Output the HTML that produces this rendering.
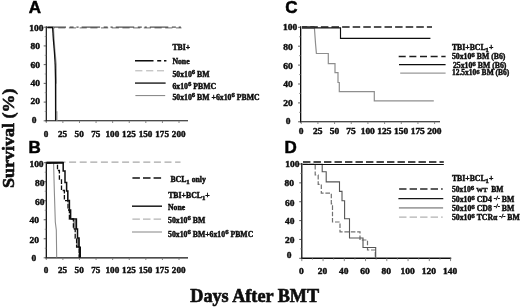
<!DOCTYPE html>
<html lang="en"><head><meta charset="utf-8"><title>Survival after BMT</title>
<style>
html,body{margin:0;padding:0;background:#fff;}
body{width:520px;height:307px;overflow:hidden;}
svg{display:block;}
.t{font-family:"Liberation Serif", "Times New Roman", Times, serif;font-weight:bold;fill:#0a0a0a;stroke:#0a0a0a;stroke-width:0.4px;paint-order:stroke;}
.p{font-family:"Liberation Sans", Arial, Helvetica, sans-serif;font-weight:bold;font-size:17px;fill:#000;stroke:#000;stroke-width:0.5px;}
.tk{font-size:8.6px;}
.lg{font-size:7.75px;}
.ax{stroke:#111;fill:none;}
.c{fill:none;stroke-linejoin:miter;stroke-linecap:butt;}
</style></head><body>
<svg width="520" height="307" viewBox="0 0 520 307">
<rect width="520" height="307" fill="#ffffff"/>
<defs><filter id="soft" x="0" y="0" width="520" height="307" filterUnits="userSpaceOnUse"><feGaussianBlur stdDeviation="0.38"/></filter></defs>
<g filter="url(#soft)">
<text class="t" style="stroke-width:0.6px" font-size="17.6" text-anchor="middle" textLength="99.5" lengthAdjust="spacingAndGlyphs" transform="translate(14.3 138.2) rotate(-90)">Survival (%)</text>
<text class="t" style="stroke-width:0.6px" font-size="18.2" x="190.3" y="301.6" textLength="128.8" lengthAdjust="spacingAndGlyphs">Days After BMT</text>
<text class="p" x="28.7" y="13.2">A</text>
<text class="p" x="28.6" y="152.7">B</text>
<text class="p" x="285.2" y="13.2">C</text>
<text class="p" x="284.4" y="152.9">D</text>
<line class="ax" x1="46.3" y1="26.2" x2="46.3" y2="121.39999999999999" stroke-width="1.15"/>
<line class="ax" x1="45.599999999999994" y1="120.8" x2="188" y2="120.8" stroke-width="1.1"/>
<line x1="46.30" y1="120.8" x2="46.30" y2="123.0" stroke="#777" stroke-width="0.9"/>
<line x1="62.89" y1="120.8" x2="62.89" y2="123.0" stroke="#777" stroke-width="0.9"/>
<line x1="79.47" y1="120.8" x2="79.47" y2="123.0" stroke="#777" stroke-width="0.9"/>
<line x1="96.06" y1="120.8" x2="96.06" y2="123.0" stroke="#777" stroke-width="0.9"/>
<line x1="112.65" y1="120.8" x2="112.65" y2="123.0" stroke="#777" stroke-width="0.9"/>
<line x1="129.24" y1="120.8" x2="129.24" y2="123.0" stroke="#777" stroke-width="0.9"/>
<line x1="145.82" y1="120.8" x2="145.82" y2="123.0" stroke="#777" stroke-width="0.9"/>
<line x1="162.41" y1="120.8" x2="162.41" y2="123.0" stroke="#777" stroke-width="0.9"/>
<line x1="179.00" y1="120.8" x2="179.00" y2="123.0" stroke="#777" stroke-width="0.9"/>
<line x1="43.699999999999996" y1="120.80" x2="46.3" y2="120.80" stroke="#333" stroke-width="0.8"/>
<line x1="43.699999999999996" y1="102.08" x2="46.3" y2="102.08" stroke="#333" stroke-width="0.8"/>
<line x1="43.699999999999996" y1="83.36" x2="46.3" y2="83.36" stroke="#333" stroke-width="0.8"/>
<line x1="43.699999999999996" y1="64.64" x2="46.3" y2="64.64" stroke="#333" stroke-width="0.8"/>
<line x1="43.699999999999996" y1="45.92" x2="46.3" y2="45.92" stroke="#333" stroke-width="0.8"/>
<line x1="43.699999999999996" y1="27.20" x2="46.3" y2="27.20" stroke="#333" stroke-width="0.8"/>
<line x1="44.699999999999996" y1="111.44" x2="46.3" y2="111.44" stroke="#777" stroke-width="0.7"/>
<line x1="44.699999999999996" y1="92.72" x2="46.3" y2="92.72" stroke="#777" stroke-width="0.7"/>
<line x1="44.699999999999996" y1="74.00" x2="46.3" y2="74.00" stroke="#777" stroke-width="0.7"/>
<line x1="44.699999999999996" y1="55.28" x2="46.3" y2="55.28" stroke="#777" stroke-width="0.7"/>
<line x1="44.699999999999996" y1="36.56" x2="46.3" y2="36.56" stroke="#777" stroke-width="0.7"/>
<text class="t tk" transform="translate(29.2 30.5) scale(1.1 1)" text-anchor="start">100</text>
<text class="t tk" transform="translate(30.5 49.2) scale(1.1 1)" text-anchor="start">80</text>
<text class="t tk" transform="translate(30.5 68.2) scale(1.1 1)" text-anchor="start">60</text>
<text class="t tk" transform="translate(30.5 86.2) scale(1.1 1)" text-anchor="start">40</text>
<text class="t tk" transform="translate(30.5 104.4) scale(1.1 1)" text-anchor="start">20</text>
<text class="t tk" transform="translate(31.8 123.2) scale(1.1 1)" text-anchor="start">0</text>
<text class="t tk" transform="translate(46.00 136.8) scale(1.06 1)" text-anchor="middle">0</text>
<text class="t tk" transform="translate(62.59 136.8) scale(1.06 1)" text-anchor="middle">25</text>
<text class="t tk" transform="translate(79.17 136.8) scale(1.06 1)" text-anchor="middle">50</text>
<text class="t tk" transform="translate(95.76 136.8) scale(1.06 1)" text-anchor="middle">75</text>
<text class="t tk" transform="translate(112.35 136.8) scale(1.06 1)" text-anchor="middle">100</text>
<text class="t tk" transform="translate(128.94 136.8) scale(1.06 1)" text-anchor="middle">125</text>
<text class="t tk" transform="translate(145.52 136.8) scale(1.06 1)" text-anchor="middle">150</text>
<text class="t tk" transform="translate(162.11 136.8) scale(1.06 1)" text-anchor="middle">175</text>
<text class="t tk" transform="translate(178.70 136.8) scale(1.06 1)" text-anchor="middle">200</text>
<path class="c" d="M47.5,27.9 H181.5" stroke="#8a8a8a" stroke-width="1.3" stroke-dasharray="7.2 3.5"/>
<path class="c" d="M47.5,27.1 H181.5" stroke="#2c2c2c" stroke-width="1.0" stroke-dasharray="18.5 3.6 4 2.8 2.2 3"/>
<path class="c" d="M47.5,27.5 H53.3 L54.6,48 L56.1,64 L56.3,83 L55.9,84 V112 H56.8 V120.8" stroke="#9c9c9c" stroke-width="1.4"/>
<path class="c" d="M47.3,27.4 H52.6 L53.4,40 L54.4,52 L55.2,65 L55.5,80 L55.6,120.8" stroke="#0c0c0c" stroke-width="1.25"/>
<text class="t lg" transform="translate(172.4 49.9) scale(1.0 1)" text-anchor="start">TBI+</text>
<text class="t lg" transform="translate(172.4 63.6) scale(1.0 1)" text-anchor="start">None</text>
<text class="t lg" transform="translate(172.4 77.0) scale(1.0 1)" text-anchor="start">50x10<tspan dy="-3.0" font-size="6.8">6</tspan><tspan dy="3.0"> </tspan>BM</text>
<text class="t lg" transform="translate(172.4 88.5) scale(1.0 1)" text-anchor="start">6x10<tspan dy="-3.0" font-size="6.8">6</tspan><tspan dy="3.0"> </tspan>PBMC</text>
<text class="t lg" transform="translate(172.4 100.4) scale(1.0 1)" text-anchor="start">50x10<tspan dy="-3.0" font-size="6.8">6</tspan><tspan dy="3.0"> </tspan>BM +6x10<tspan dy="-3.0" font-size="6.8">6</tspan><tspan dy="3.0"> </tspan>PBMC</text>
<path class="c" d="M135,60.8 H166.4" stroke="#0a0a0a" stroke-width="1.4" stroke-dasharray="18.5 3.7 4 2.8 2.4 3"/>
<path class="c" d="M135.2,70.8 H164" stroke="#b0b0b0" stroke-width="1.0" stroke-dasharray="7.2 3.7"/>
<path class="c" d="M135,83.1 H165.6" stroke="#0c0c0c" stroke-width="1.3"/>
<path class="c" d="M135.4,95.6 H165.2" stroke="#808080" stroke-width="1.0"/>
<line class="ax" x1="46.3" y1="161.7" x2="46.3" y2="258.40000000000003" stroke-width="1.3"/>
<line class="ax" x1="45.599999999999994" y1="257.8" x2="188" y2="257.8" stroke-width="1.3"/>
<line x1="46.30" y1="257.8" x2="46.30" y2="260.0" stroke="#777" stroke-width="0.9"/>
<line x1="62.89" y1="257.8" x2="62.89" y2="260.0" stroke="#777" stroke-width="0.9"/>
<line x1="79.47" y1="257.8" x2="79.47" y2="260.0" stroke="#777" stroke-width="0.9"/>
<line x1="96.06" y1="257.8" x2="96.06" y2="260.0" stroke="#777" stroke-width="0.9"/>
<line x1="112.65" y1="257.8" x2="112.65" y2="260.0" stroke="#777" stroke-width="0.9"/>
<line x1="129.24" y1="257.8" x2="129.24" y2="260.0" stroke="#777" stroke-width="0.9"/>
<line x1="145.82" y1="257.8" x2="145.82" y2="260.0" stroke="#777" stroke-width="0.9"/>
<line x1="162.41" y1="257.8" x2="162.41" y2="260.0" stroke="#777" stroke-width="0.9"/>
<line x1="179.00" y1="257.8" x2="179.00" y2="260.0" stroke="#777" stroke-width="0.9"/>
<line x1="43.699999999999996" y1="257.80" x2="46.3" y2="257.80" stroke="#333" stroke-width="0.8"/>
<line x1="43.699999999999996" y1="238.78" x2="46.3" y2="238.78" stroke="#333" stroke-width="0.8"/>
<line x1="43.699999999999996" y1="219.76" x2="46.3" y2="219.76" stroke="#333" stroke-width="0.8"/>
<line x1="43.699999999999996" y1="200.74" x2="46.3" y2="200.74" stroke="#333" stroke-width="0.8"/>
<line x1="43.699999999999996" y1="181.72" x2="46.3" y2="181.72" stroke="#333" stroke-width="0.8"/>
<line x1="43.699999999999996" y1="162.70" x2="46.3" y2="162.70" stroke="#333" stroke-width="0.8"/>
<line x1="44.699999999999996" y1="248.29" x2="46.3" y2="248.29" stroke="#777" stroke-width="0.7"/>
<line x1="44.699999999999996" y1="229.27" x2="46.3" y2="229.27" stroke="#777" stroke-width="0.7"/>
<line x1="44.699999999999996" y1="210.25" x2="46.3" y2="210.25" stroke="#777" stroke-width="0.7"/>
<line x1="44.699999999999996" y1="191.23" x2="46.3" y2="191.23" stroke="#777" stroke-width="0.7"/>
<line x1="44.699999999999996" y1="172.21" x2="46.3" y2="172.21" stroke="#777" stroke-width="0.7"/>
<text class="t tk" transform="translate(29.4 166.9) scale(1.1 1)" text-anchor="start">100</text>
<text class="t tk" transform="translate(34.9 185.5) scale(1.1 1)" text-anchor="start">80</text>
<text class="t tk" transform="translate(34.9 205.0) scale(1.1 1)" text-anchor="start">60</text>
<text class="t tk" transform="translate(29.6 223.25) scale(1.1 1)" text-anchor="start">40</text>
<text class="t tk" transform="translate(29.6 242.5) scale(1.1 1)" text-anchor="start">20</text>
<text class="t tk" transform="translate(31.4 261.25) scale(1.1 1)" text-anchor="start">0</text>
<text class="t tk" transform="translate(46.00 272.9) scale(1.06 1)" text-anchor="middle">0</text>
<text class="t tk" transform="translate(62.59 272.9) scale(1.06 1)" text-anchor="middle">25</text>
<text class="t tk" transform="translate(79.17 272.9) scale(1.06 1)" text-anchor="middle">50</text>
<text class="t tk" transform="translate(95.76 272.9) scale(1.06 1)" text-anchor="middle">75</text>
<text class="t tk" transform="translate(112.35 272.9) scale(1.06 1)" text-anchor="middle">100</text>
<text class="t tk" transform="translate(128.94 272.9) scale(1.06 1)" text-anchor="middle">125</text>
<text class="t tk" transform="translate(145.52 272.9) scale(1.06 1)" text-anchor="middle">150</text>
<text class="t tk" transform="translate(162.11 272.9) scale(1.06 1)" text-anchor="middle">175</text>
<text class="t tk" transform="translate(178.70 272.9) scale(1.06 1)" text-anchor="middle">200</text>
<path class="c" d="M63.5,162.2 H180.5" stroke="#a8a8a8" stroke-width="1.2" stroke-dasharray="7 3.6" stroke-dashoffset="-5.6"/>
<path class="c" d="M47,162.9 H53.6 L54.3,190 L55.3,222 L56.3,230 L56.7,257.5" stroke="#8c8c8c" stroke-width="1.1"/>
<path class="c" d="M74.9,220 V229 M78,238.4 V247" stroke="#707070" stroke-width="3.4" stroke-dasharray="0.8 0.2"/>
<path class="c" d="M47,162.8 H57.5 V170.5 H59.4 V180 H61.5 V190.5 H64.4 V200.6 H68 V210 H69.4 V219 H73.4 V229 H75.2 V238 H76.6 V247 H79.2 V257.5" stroke="#111" stroke-width="1.3" stroke-dasharray="4.6 1.6"/>
<path class="c" d="M47,162.8 H63.2 V171 H65 V182.4 H66.6 V191 H67.8 V200.6 H69.4 V210 H70.6 V219 H76.4 V229 H77.5 V238 H79 V247 H79.9 V257.5" stroke="#0c0c0c" stroke-width="1.5"/>
<path class="c" d="M79.9,247 V257.5" stroke="#0c0c0c" stroke-width="2.2"/>
<path class="c" d="M47,162.6 H63.5" stroke="#0c0c0c" stroke-width="2"/>
<path class="c" d="M132.4,178 H161.2" stroke="#111" stroke-width="1.3" stroke-dasharray="7.5 3.1"/>
<text class="t lg" transform="translate(170.4 181.8) scale(1.0 1)" text-anchor="start" font-size="8.3">BCL<tspan dy="2.1" font-size="6.8">1</tspan><tspan dy="-2.1" font-size="1">&#8203;</tspan> only</text>
<text class="t lg" transform="translate(168.2 198.0) scale(1.0 1)" text-anchor="start">TBI+BCL<tspan dy="2.1" font-size="6.8">1</tspan><tspan dy="-2.1" font-size="1">&#8203;</tspan>+</text>
<path class="c" d="M132,206.2 H162" stroke="#0c0c0c" stroke-width="1.4"/>
<text class="t lg" transform="translate(168.0 209.5) scale(1.0 1)" text-anchor="start">None</text>
<path class="c" d="M132.4,219.1 H161.2" stroke="#b4b4b4" stroke-width="1.3" stroke-dasharray="7.5 3.1"/>
<text class="t lg" transform="translate(168.0 223.3) scale(1.0 1)" text-anchor="start">50x10<tspan dy="-3.0" font-size="6.8">6</tspan><tspan dy="3.0"> </tspan>BM</text>
<path class="c" d="M132,232 H162" stroke="#a8a8a8" stroke-width="1.4"/>
<text class="t lg" transform="translate(168.0 237.0) scale(1.0 1)" text-anchor="start">50x10<tspan dy="-3.0" font-size="6.8">6</tspan><tspan dy="3.0"> </tspan>BM+6x10<tspan dy="-3.0" font-size="6.8">6</tspan><tspan dy="3.0"> </tspan>PBMC</text>
<line class="ax" x1="300.65" y1="26.3" x2="300.65" y2="122.39999999999999" stroke-width="1.3"/>
<line class="ax" x1="299.95" y1="121.8" x2="440" y2="121.8" stroke-width="1.1"/>
<line x1="301.25" y1="121.8" x2="301.25" y2="124.0" stroke="#777" stroke-width="0.9"/>
<line x1="317.92" y1="121.8" x2="317.92" y2="124.0" stroke="#777" stroke-width="0.9"/>
<line x1="334.59" y1="121.8" x2="334.59" y2="124.0" stroke="#777" stroke-width="0.9"/>
<line x1="351.26" y1="121.8" x2="351.26" y2="124.0" stroke="#777" stroke-width="0.9"/>
<line x1="367.93" y1="121.8" x2="367.93" y2="124.0" stroke="#777" stroke-width="0.9"/>
<line x1="384.60" y1="121.8" x2="384.60" y2="124.0" stroke="#777" stroke-width="0.9"/>
<line x1="401.27" y1="121.8" x2="401.27" y2="124.0" stroke="#777" stroke-width="0.9"/>
<line x1="417.94" y1="121.8" x2="417.94" y2="124.0" stroke="#777" stroke-width="0.9"/>
<line x1="434.61" y1="121.8" x2="434.61" y2="124.0" stroke="#777" stroke-width="0.9"/>
<line x1="298.04999999999995" y1="121.80" x2="300.65" y2="121.80" stroke="#333" stroke-width="0.8"/>
<line x1="298.04999999999995" y1="102.90" x2="300.65" y2="102.90" stroke="#333" stroke-width="0.8"/>
<line x1="298.04999999999995" y1="84.00" x2="300.65" y2="84.00" stroke="#333" stroke-width="0.8"/>
<line x1="298.04999999999995" y1="65.10" x2="300.65" y2="65.10" stroke="#333" stroke-width="0.8"/>
<line x1="298.04999999999995" y1="46.20" x2="300.65" y2="46.20" stroke="#333" stroke-width="0.8"/>
<line x1="298.04999999999995" y1="27.30" x2="300.65" y2="27.30" stroke="#333" stroke-width="0.8"/>
<line x1="299.04999999999995" y1="112.35" x2="300.65" y2="112.35" stroke="#777" stroke-width="0.7"/>
<line x1="299.04999999999995" y1="93.45" x2="300.65" y2="93.45" stroke="#777" stroke-width="0.7"/>
<line x1="299.04999999999995" y1="74.55" x2="300.65" y2="74.55" stroke="#777" stroke-width="0.7"/>
<line x1="299.04999999999995" y1="55.65" x2="300.65" y2="55.65" stroke="#777" stroke-width="0.7"/>
<line x1="299.04999999999995" y1="36.75" x2="300.65" y2="36.75" stroke="#777" stroke-width="0.7"/>
<text class="t tk" transform="translate(283.0 30.4) scale(1.1 1)" text-anchor="start">100</text>
<text class="t tk" transform="translate(283.3 49.5) scale(1.1 1)" text-anchor="start">80</text>
<text class="t tk" transform="translate(283.3 68.75) scale(1.1 1)" text-anchor="start">60</text>
<text class="t tk" transform="translate(283.3 87.0) scale(1.1 1)" text-anchor="start">40</text>
<text class="t tk" transform="translate(283.3 105.5) scale(1.1 1)" text-anchor="start">20</text>
<text class="t tk" transform="translate(285.7 123.75) scale(1.1 1)" text-anchor="start">0</text>
<text class="t tk" transform="translate(301.05 133.5) scale(1.1 1)" text-anchor="middle" font-size="8.8">0</text>
<text class="t tk" transform="translate(317.72 133.5) scale(1.1 1)" text-anchor="middle" font-size="8.8">25</text>
<text class="t tk" transform="translate(334.39 133.5) scale(1.1 1)" text-anchor="middle" font-size="8.8">50</text>
<text class="t tk" transform="translate(351.06 133.5) scale(1.1 1)" text-anchor="middle" font-size="8.8">75</text>
<text class="t tk" transform="translate(367.73 133.5) scale(1.1 1)" text-anchor="middle" font-size="8.8">100</text>
<text class="t tk" transform="translate(384.40 133.5) scale(1.1 1)" text-anchor="middle" font-size="8.8">125</text>
<text class="t tk" transform="translate(401.07 133.5) scale(1.1 1)" text-anchor="middle" font-size="8.8">150</text>
<text class="t tk" transform="translate(417.74 133.5) scale(1.1 1)" text-anchor="middle" font-size="8.8">175</text>
<text class="t tk" transform="translate(434.41 133.5) scale(1.1 1)" text-anchor="middle" font-size="8.8">200</text>
<path class="c" d="M302,27.8 H314.4 L315.6,44.5 L316.4,53.5 H328.3 V63.6 H335 V72.6 H338 V82.5 H339.3 V91.7 H374.3 V100.8 H433.8" stroke="#8e8e8e" stroke-width="1.2"/>
<path class="c" d="M302,27.8 H340.5 V38.3 H430.4" stroke="#111" stroke-width="1.15"/>
<path class="c" d="M302,26.9 H432" stroke="#1a1a1a" stroke-width="1.5" stroke-dasharray="7.5 3.1" stroke-dashoffset="-8.3"/>
<path class="c" d="M302,27.2 H314.5" stroke="#333" stroke-width="2"/>
<text class="t lg" transform="translate(451.9 49.8) scale(1.0 1)" text-anchor="start">TBI+BCL<tspan dy="2.1" font-size="6.8">1</tspan><tspan dy="-2.1" font-size="1">&#8203;</tspan>+</text>
<text class="t lg" transform="translate(451.9 58.75) scale(1.0 1)" text-anchor="start">50x10<tspan dy="-1.7" font-size="7.1">6</tspan><tspan dy="1.7"> </tspan>BM (B6)</text>
<text class="t lg" transform="translate(452.9 67.7) scale(1.0 1)" text-anchor="start">25x10<tspan dy="-1.7" font-size="7.1">6</tspan><tspan dy="1.7"> </tspan>BM (B6)</text>
<text class="t lg" transform="translate(451.9 75.35) scale(0.97 1)" text-anchor="start">12.5x10<tspan dy="-1.7" font-size="7.1">6</tspan><tspan dy="1.7"> </tspan>BM (B6)</text>
<path class="c" d="M398.7,56.5 H445.6" stroke="#1c1c1c" stroke-width="1.35" stroke-dasharray="7 3.65"/>
<path class="c" d="M399,64.6 H445.6" stroke="#111" stroke-width="1.3"/>
<path class="c" d="M400.2,73.1 H445.6" stroke="#999" stroke-width="1.2"/>
<line class="ax" x1="301.8" y1="163.0" x2="301.8" y2="258.90000000000003" stroke-width="1.3"/>
<line class="ax" x1="301.1" y1="258.3" x2="451.2" y2="258.3" stroke-width="1.4"/>
<line x1="301.80" y1="258.3" x2="301.80" y2="261.1" stroke="#777" stroke-width="0.9"/>
<line x1="323.05" y1="258.3" x2="323.05" y2="261.1" stroke="#777" stroke-width="0.9"/>
<line x1="344.30" y1="258.3" x2="344.30" y2="261.1" stroke="#777" stroke-width="0.9"/>
<line x1="365.55" y1="258.3" x2="365.55" y2="261.1" stroke="#777" stroke-width="0.9"/>
<line x1="386.80" y1="258.3" x2="386.80" y2="261.1" stroke="#777" stroke-width="0.9"/>
<line x1="408.05" y1="258.3" x2="408.05" y2="261.1" stroke="#777" stroke-width="0.9"/>
<line x1="429.30" y1="258.3" x2="429.30" y2="261.1" stroke="#777" stroke-width="0.9"/>
<line x1="450.55" y1="258.3" x2="450.55" y2="261.1" stroke="#777" stroke-width="0.9"/>
<line x1="312.43" y1="258.3" x2="312.43" y2="259.7" stroke="#888" stroke-width="0.8"/>
<line x1="333.68" y1="258.3" x2="333.68" y2="259.7" stroke="#888" stroke-width="0.8"/>
<line x1="354.93" y1="258.3" x2="354.93" y2="259.7" stroke="#888" stroke-width="0.8"/>
<line x1="376.18" y1="258.3" x2="376.18" y2="259.7" stroke="#888" stroke-width="0.8"/>
<line x1="397.43" y1="258.3" x2="397.43" y2="259.7" stroke="#888" stroke-width="0.8"/>
<line x1="418.68" y1="258.3" x2="418.68" y2="259.7" stroke="#888" stroke-width="0.8"/>
<line x1="439.93" y1="258.3" x2="439.93" y2="259.7" stroke="#888" stroke-width="0.8"/>
<line x1="299.2" y1="258.30" x2="301.8" y2="258.30" stroke="#333" stroke-width="0.8"/>
<line x1="299.2" y1="239.44" x2="301.8" y2="239.44" stroke="#333" stroke-width="0.8"/>
<line x1="299.2" y1="220.58" x2="301.8" y2="220.58" stroke="#333" stroke-width="0.8"/>
<line x1="299.2" y1="201.72" x2="301.8" y2="201.72" stroke="#333" stroke-width="0.8"/>
<line x1="299.2" y1="182.86" x2="301.8" y2="182.86" stroke="#333" stroke-width="0.8"/>
<line x1="299.2" y1="164.00" x2="301.8" y2="164.00" stroke="#333" stroke-width="0.8"/>
<line x1="300.2" y1="248.87" x2="301.8" y2="248.87" stroke="#777" stroke-width="0.7"/>
<line x1="300.2" y1="230.01" x2="301.8" y2="230.01" stroke="#777" stroke-width="0.7"/>
<line x1="300.2" y1="211.15" x2="301.8" y2="211.15" stroke="#777" stroke-width="0.7"/>
<line x1="300.2" y1="192.29" x2="301.8" y2="192.29" stroke="#777" stroke-width="0.7"/>
<line x1="300.2" y1="173.43" x2="301.8" y2="173.43" stroke="#777" stroke-width="0.7"/>
<text class="t tk" transform="translate(285.2 166.6) scale(1.1 1)" text-anchor="start">100</text>
<text class="t tk" transform="translate(284.6 186.2) scale(1.1 1)" text-anchor="start">80</text>
<text class="t tk" transform="translate(285.0 205.5) scale(1.1 1)" text-anchor="start">60</text>
<text class="t tk" transform="translate(285.0 223.5) scale(1.1 1)" text-anchor="start">40</text>
<text class="t tk" transform="translate(285.0 242.6) scale(1.1 1)" text-anchor="start">20</text>
<text class="t tk" transform="translate(286.7 258.4) scale(1.1 1)" text-anchor="start">0</text>
<text class="t tk" transform="translate(301.30 273.75) scale(1.1 1)" text-anchor="middle" font-size="8.8">0</text>
<text class="t tk" transform="translate(322.55 273.75) scale(1.1 1)" text-anchor="middle" font-size="8.8">20</text>
<text class="t tk" transform="translate(343.80 273.75) scale(1.1 1)" text-anchor="middle" font-size="8.8">40</text>
<text class="t tk" transform="translate(365.05 273.75) scale(1.1 1)" text-anchor="middle" font-size="8.8">60</text>
<text class="t tk" transform="translate(386.30 273.75) scale(1.1 1)" text-anchor="middle" font-size="8.8">80</text>
<text class="t tk" transform="translate(407.55 273.75) scale(1.1 1)" text-anchor="middle" font-size="8.8">100</text>
<text class="t tk" transform="translate(428.80 273.75) scale(1.1 1)" text-anchor="middle" font-size="8.8">120</text>
<text class="t tk" transform="translate(450.05 273.75) scale(1.1 1)" text-anchor="middle" font-size="8.8">140</text>
<path class="c" d="M303,164.4 H315.2 V175 H318.2 V184.4 H321.3 V193.2 H331.3 V203.8 H332.5 V222 H340 V231.8 H360 V240 H367.5 V250 H375.3 V257.8" stroke="#707070" stroke-width="1.2" stroke-dasharray="4.6 1.8"/>
<path class="c" d="M303,164.2 H322.2 V171.8 H326.2 V181.9 H339.5 V191.4 H342 V200.8 H344.6 V218.8 H349.5 V238 H363 V247.5 H375.7 V257.8" stroke="#555" stroke-width="1.1"/>
<path class="c" d="M302.5,164.45 H443.8" stroke="#111" stroke-width="1.1"/>
<path class="c" d="M303,162 H443.8" stroke="#484848" stroke-width="1.9" stroke-dasharray="7.4 3.1"/>
<text class="t lg" transform="translate(451.9 180.8) scale(1.0 1)" text-anchor="start">TBI+BCL<tspan dy="2.1" font-size="6.8">1</tspan><tspan dy="-2.1" font-size="1">&#8203;</tspan>+</text>
<text class="t lg" transform="translate(451.9 191.5) scale(0.98 1)" text-anchor="start">50x10<tspan dy="-1.7" font-size="7.1">6</tspan><tspan dy="1.7"> </tspan><tspan font-size="6.9">WT</tspan>&#160; BM</text>
<text class="t lg" transform="translate(451.9 201.9) scale(1.0 1)" text-anchor="start">50x10<tspan dy="-1.7" font-size="7.1">6</tspan><tspan dy="1.7"> </tspan>CD4 <tspan dy="-2.2" font-size="6.4">-/-</tspan><tspan dy="2.2"> BM</tspan></text>
<text class="t lg" transform="translate(451.9 210.6) scale(1.0 1)" text-anchor="start">50x10<tspan dy="-1.7" font-size="7.1">6</tspan><tspan dy="1.7"> </tspan>CD8 <tspan dy="-2.2" font-size="6.4">-/-</tspan><tspan dy="2.2"> BM</tspan></text>
<text class="t lg" transform="translate(451.9 219.8) scale(1.0 1)" text-anchor="start">50x10<tspan dy="-1.7" font-size="7.1">6</tspan><tspan dy="1.7"> </tspan>TCR&#945; <tspan dy="-2.2" font-size="6.4">-/-</tspan><tspan dy="2.2"> BM</tspan></text>
<path class="c" d="M399.1,189.0 H442.7" stroke="#2a2a2a" stroke-width="1.35" stroke-dasharray="7.4 3.1"/>
<path class="c" d="M398.4,198.6 H443.3" stroke="#181818" stroke-width="1.4"/>
<path class="c" d="M398.9,207.9 H443.1" stroke="#a2a2a2" stroke-width="1.6"/>
<path class="c" d="M399.1,217.2 H442.7" stroke="#b2b2b2" stroke-width="1.2" stroke-dasharray="7.4 3.1"/>
</g>
</svg>
</body></html>
